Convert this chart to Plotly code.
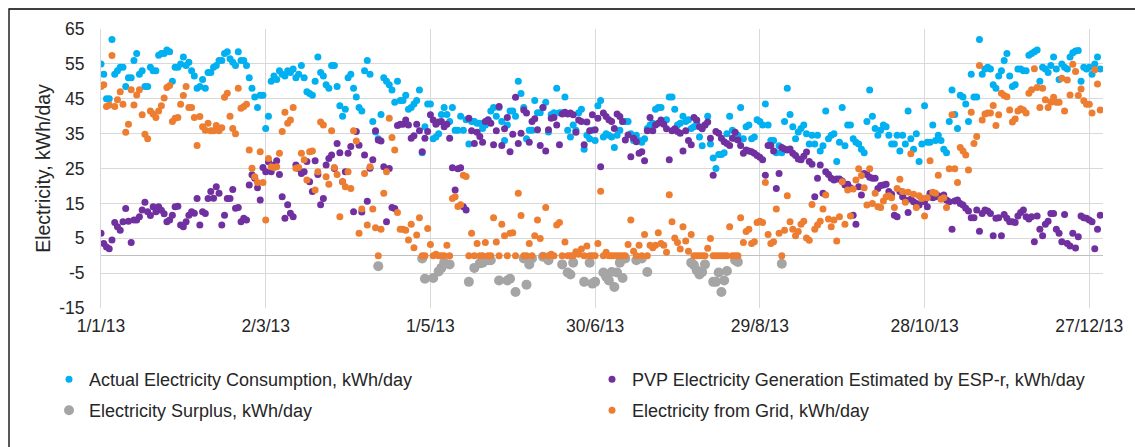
import pandas as pd
import plotly.graph_objects as go

# ---- daily values for 2013 (kWh/day) ----
dates = pd.date_range("2013-01-01", periods=365, freq="D")

consumption = [
    # Jan
    55, 52, 45, 45, 62, 52, 53, 54, 54, 48.5, 51, 51, 56, 58, 52, 53, 48.5, 48.5, 54, 53,
    53, 57.5, 58, 58, 59, 58.5, 50, 54, 54, 55, 57,
    # Feb
    54.5, 55.5, 53, 51.5, 48, 48.5, 50.5, 48, 52.5, 52.5, 54, 54.5, 56, 56, 58, 58.5, 56.5,
    55.5, 54.5, 58.5, 56, 56, 54.5, 51, 48, 45.5, 42.5, 46,
    # Mar
    46, 36.5, 40, 50, 51.5, 50.5, 53, 52, 51.5, 53, 52.5, 53.5, 51, 52, 54.5, 51, 47, 46.5,
    46, 50, 57, 52.5, 51.5, 49, 48, 54.5, 54.5, 48.5, 43, 40, 42,
    # Apr
    51, 52, 48, 45.5, 42.5, 41.5, 53, 56, 52, 38.5, 35.5, 33.5, 40.5, 51, 50, 49, 47.5, 44,
    50, 44.5, 44.5, 46, 42, 42.5, 43.5, 44.5, 47.5, 29.5, 37, 43.5,
    # May
    43.5, 33.5, 34, 35, 40.5, 42.5, 40.5, 38.5, 42.5, 36, 36, 40, 36, 39, 32, 38.5, 38.5, 38,
    38, 36.5, 37.5, 39, 41.5, 42.5, 40, 42.5, 38.5, 33, 37.5, 41.5, 41.5,
    # Jun
    40, 50, 46.5, 42.5, 33.5, 36, 36, 44.5, 41, 41, 42.5, 44, 35.5, 40.5, 41, 48, 41, 41,
    45.5, 36, 34, 37.5, 36, 41, 42, 30.5, 34.5, 33.5, 36, 33,
    # Jul
    43, 44.5, 34, 35, 34.5, 34, 31, 34.5, 36, 38.5, 38.5, 38.5, 35, 33, 34.5, 33, 32.5, 33.5,
    36.5, 37.5, 38, 42, 42.5, 42.5, 38.5, 39, 45.5, 45.5, 42, 37.5, 38,
    # Aug
    40, 38.5, 39, 36.5, 37, 38.5, 34, 31.5, 37.5, 40, 32, 28, 25, 29, 29, 29.5, 35, 40, 36,
    33.5, 34.5, 42.5, 33.5, 37, 37.5, 33.5, 34, 39, 38.5, 37.5, 43.5,
    # Sep
    37.5, 33, 33, 29.5, 31.5, 29.5, 38.5, 48, 40.5, 37, 33.5, 35.5, 36.5, 37.5, 35, 32, 34.5,
    32, 34.5, 30, 31.5, 41.5, 33.5, 34.5, 35, 27, 32.5, 42.5, 31.5, 37.5,
    # Oct
    37.5, 33.5, 32.5, 32, 30.5, 29.5, 38.5, 47.5, 40, 36.5, 34.5, 36, 37.5, 37, 34.5, 32, 32,
    34.5, 30, 34.5, 32, 41.5, 33.5, 30.5, 35, 27, 32, 43, 32.5, 32.5, 37.5,
    # Nov
    33, 34.5, 33, 30.5, 29.5, 38.5, 47.5, 40.5, 36.5, 46, 45.5, 43.5, 38.5, 52, 45.5, 45.5,
    62, 52, 53.5, 54, 53.5, 49, 48, 51.5, 53, 56, 58, 51.5, 48.5, 49,
    # Dec
    53.5, 53.5, 53, 53, 57.5, 58, 58.5, 59, 50, 54, 53.5, 52.5, 54.5, 57, 53.5, 50.5, 55, 54,
    53.5, 57, 58.2, 58.7, 58.8, 50, 54, 53.5, 54, 52, 55, 57, 53.5,
]

generation = [
    # Jan
    6.4, 3.5, 2.5, 2, 4.5, 9.5, 8.3, 7.3, 9.7, 13.5, 9.9, 3.8, 10.2, 10.2, 11.2, 13.1, 15.3,
    12.6, 11.5, 14, 12.6, 14, 13, 12, 9.7, 10.2, 11.6, 14, 14.2, 8.8, 8.3,
    # Feb
    9.7, 11.6, 12.6, 12.2, 16.4, 8.8, 12.6, 12.1, 16.4, 18.4, 16.5, 19.8, 17.9, 8.8, 11.6,
    16.4, 16.4, 19, 13.6, 13.8, 9.7, 10.7, 10.2, 20.3, 23.2, 22.2, 19.5, 16,
    # Mar
    25.3, 24.1, 26.9, 24.1, 26, 27.2, 23.3, 16.9, 10.7, 14.6, 12.2, 11.2, 26, 25, 23.6, 24.1,
    27, 21.2, 18.4, 27.2, 23.3, 14.6, 16.4, 26, 27.9, 28.9, 25, 32.2, 29.5, 21.2, 24.1,
    # Apr
    29.4, 31.3, 12.6, 35.6, 31.7, 12.5, 28.9, 15.6, 25.1, 27.5, 35.8, 33.2, 32.9, 25.5, 9.7,
    25, 13.8, 13.5, 37.3, 37.7, 37.7, 38.9, 37.5, 33.7, 34.4, 37.7, 35.8, 29.8, 33.7, 35.6,
    # May
    40.4, 38.9, 37.7, 38.3, 38.5, 37, 37.7, 33.7, 25.2, 18.8, 24.9, 25.2, 14, 13.1, 39.4,
    35.8, 32.2, 35.4, 34.2, 32.5, 38.5, 38.9, 38, 31.8, 35.8, 42.8, 31.6, 36.4, 39.6, 29.8, 34.8,
    # Jun
    45.4, 32.2, 35.1, 41.8, 40.9, 32.5, 38.5, 39.3, 36.1, 31.6, 42.5, 30, 36.1, 39.4, 39.6,
    37.5, 31.8, 40.6, 41.1, 40.6, 40.9, 40.4, 35.4, 38.9, 38.5, 31.8, 38.3, 35.8, 40.4, 36.1,
    # Jul
    39.4, 25.5, 40.9, 39.9, 39, 38.5, 36.5, 40.6, 39.9, 38.5, 33.2, 34.6, 28.4, 33.7, 32.7,
    29.4, 29.8, 27.2, 35.8, 39.6, 35.8, 37.5, 38, 38.9, 37.7, 36.4, 27.5, 35.8, 36.4, 35.6, 35.1,
    # Aug
    30, 35.8, 33, 31.8, 39.6, 38.9, 37, 36.4, 37.5, 38.3, 33.7, 23.1, 35.6, 35.1, 33.7, 32.7,
    32.2, 31.6, 33.7, 35.4, 33.2, 31.6, 29.4, 30.3, 30, 29.8, 29.4, 28.7, 28.2, 27.5, 23.1,
    # Sep
    31.6, 31.6, 30, 19.3, 23.6, 31, 30.6, 30.3, 30.6, 29.4, 28.7, 27.7, 27.5, 28.5, 29.7, 27,
    26.2, 16.9, 22.2, 26, 17.9, 24.1, 23.3, 22.2, 21.7, 22, 22, 21.4, 20.3, 20.5,
    # Oct
    19.5, 11.6, 9, 19.8, 17.4, 23.6, 23.3, 22.5, 22.2, 22.2, 19.3, 20.1, 20.3, 20.5, 18.4,
    17.6, 11.6, 11.2, 18.4, 16.9, 16, 12.4, 16.2, 15.5, 15, 14.5, 16.4, 15.5, 14, 17.9, 16.6,
    # Nov
    16.9, 17.2, 16.4, 17.4, 16, 15.5, 7.6, 15.7, 16, 15, 14.5, 13.6, 12.8, 10.9, 10.9, 13.1,
    7, 12.1, 13.1, 12.8, 12.1, 5.7, 10.7, 10.9, 5.7, 11.8, 10.7, 9.7, 9.7, 9.5,
    # Dec
    11.4, 12.4, 13.1, 11.2, 10.5, 11.2, 4, 11.4, 7.6, 5.7, 9, 9.9, 12.1, 12.1, 7.6, 6.4, 4,
    11.8, 3.5, 2.8, 6.4, 2.2, 5.4, 11.4, 10.9, 10.7, 10.2, 9.7, 2, 7.6, 11.6,
]

from_grid = [
    # Jan
    48.5, 49, 42.8, 43.2, 57.4, 42.8, 44.7, 47, 43.4, 35.4, 37.7, 47.6, 43.2, 46.1, 47.6,
    40.4, 34.8, 33.5, 41.5, 40.6, 39.6, 41.5, 43, 45.2, 48.2, 48.8, 38.5, 39.4, 39.6, 43.4, 45.9,
    # Feb
    48.5, 42.5, 42.5, 39.6, 31.6, 39.9, 37, 36, 38, 35.8, 35.8, 37.3, 35.8, 36.7, 45.4, 46.6,
    40, 36.5, 35, 48, 42.3, 42.8, 43.4, 30.3, 25.1, 22.6, 21, 29.8,
    # Mar
    21, 10.2, 27.9, 25.5, 25.3, 25.5, 29.4, 35.6, 41.1, 38, 38.9, 42.5, 25.1, 25.3, 29.4,
    27.5, 21.7, 29.8, 30, 18.8, 24.1, 38.3, 37.5, 22.6, 20.5, 35.8, 25.3, 23.3, 11.2, 21.2, 19.8,
    # Apr
    24.1, 19.3, 35.8, 32.9, 6.4, 13.4, 23.6, 8.8, 25.5, 13.4, 8, 0, 7.6, 17.9, 24.1, 39.4,
    33.9, 30.3, 12.4, 7.6, 7.6, 7.3, 4.5, 9, 2.3, 5.9, 10.9, 0, 0, 7.8,
    # May
    3.2, 0, 0.4, 0, 0, 0, 3, 0, 16.4, 16.9, 14.1, 14.6, 23.1, 22.7, 0, 6.4, 0, 3.5, 0, 0,
    3.8, 0, 0, 10.9, 3.9, 0, 9, 5.7, 0, 6.4, 6.6,
    # Jun
    0, 17.9, 11.5, 0, 0, 3.5, 0, 5.7, 10.2, 4.9, 0, 13.8, 0, 0.4, 0, 8.8, 9.5, 0, 3.9, 0, 0,
    0, 1.1, 0.4, 1.9, 0, 2.8, 0, 0, 0,
    # Jul
    3.5, 18.5, 0, 1, 0, 0, 0, 0, 0, 0, 0, 3.2, 10.2, 1.3, 0, 3, 0, 6.1, 0, 3, 2.3, 3, 6.6,
    3.5, 3, 1, 17.5, 9.7, 5.1, 3.8, 1.9,
    # Aug
    8.3, 4.2, 1.3, 6.1, 0, 0, 0, 0, 0, 2.1, 4.9, 0, 0, 0, 0, 0, 0, 8.3, 0, 0, 0, 10.9, 3.8,
    6.9, 7.6, 3.5, 4, 9.5, 9.9, 9.5, 21,
    # Sep
    6.1, 3.5, 4, 13.4, 6.4, 0, 7.3, 17.2, 9.7, 7.6, 5.7, 6.9, 9, 9.9, 5.1, 4.4, 14.7, 7.6,
    8.8, 9.9, 13.4, 17.4, 10.5, 8.3, 10.2, 4.2, 11.2, 21.2, 9, 18.8,
    # Oct
    11.4, 19.1, 21.7, 24.9, 23, 19.5, 14.5, 24.9, 15, 17.9, 14, 13.8, 15.7, 16.9, 17.2, 16.6,
    13.8, 19.3, 21.9, 18.4, 15.3, 18.2, 29.2, 17.6, 13.8, 17.2, 16.4, 11.4, 16.6, 27.2, 18.2,
    # Nov
    17.9, 23.1, 16.2, 16.6, 13.8, 24.9, 40.4, 24.9, 21, 31, 30, 28.9, 24.6, 41.1, 32.2, 34.2,
    54.5, 38.9, 40.6, 40.9, 40.9, 43.1, 37.3, 40.4, 46.6, 45.9, 45.6, 41.8, 38.3, 39.2,
    # Dec
    41.5, 42.1, 41.8, 40.9, 46.6, 47.6, 53.6, 48.2, 42.5, 48, 44.7, 42.5, 44, 45.4, 44, 44,
    50.9, 41.5, 50.4, 46.1, 54.9, 52.8, 45.9, 47.8, 44.4, 43.4, 43.4, 40.9, 53.3, 49.2, 41.8,
]

# surplus only exists on days when generation exceeds consumption (day-of-year index, value)
surplus_day = [101, 117, 118, 121, 123, 124, 125, 127, 134, 136, 138, 139, 141, 142, 145,
               148, 149, 151, 154, 155, 156, 157, 161, 163, 168, 170, 171, 172, 176, 178,
               179, 180, 183, 184, 185, 186, 187, 188, 189, 190, 191, 195, 197, 199, 215,
               216, 217, 218, 219, 220, 223, 224, 225, 226, 227, 228, 231, 232, 248]
surplus = [-3, -0.8, -6.6, -6.4, -4.5, -3.5, -2, -2.5, -7.5, -3.5, -2.2, -2, -1.3, -1.3, -7.1,
           -7.1, -6.6, -10.4, -0.8, -8.3, -2.5, -0.8, -0.3, -1.3, -2.5, -4.8, -5.4, -2, -7.5, -2,
           -8, -7.5, -4.8, -6, -7.1, -4.7, -9, -4.8, -2, -6.4, -0.8, -1.3, -0.8, -4.7, -2,
           -2.7, -4.2, -5.4, -4.7, -2.5, -7.5, -7.5, -4.8, -10.4, -7.1, -4.4, -1.3, -1.8, -2.3]

tick_dates = ["2013-01-01", "2013-03-02", "2013-05-01", "2013-06-30",
              "2013-08-29", "2013-10-28", "2013-12-27"]
tick_labels = ["1/1/13", "2/3/13", "1/5/13", "30/6/13", "29/8/13", "28/10/13", "27/12/13"]

y_ticks = [-15, -5, 5, 15, 25, 35, 45, 55, 65]
y_tick_labels = ["-15", "-5", "5", "15", "25", "35", "45", "55", "65"]

names = ["Actual Electricity Consumption, kWh/day",
         "PVP Electricity Generation Estimated by ESP-r, kWh/day",
         "Electricity Surplus, kWh/day",
         "Electricity from Grid, kWh/day"]
colors = ["#00B0F0", "#7030A0", "#A5A5A5", "#ED7D31"]

FONT = "Liberation Sans, Arial, sans-serif"
TXT = "#262626"

fig = go.Figure()
fig.add_trace(go.Scatter(x=dates, y=consumption, mode="markers", name=names[0],
                         marker=dict(color=colors[0], size=7), legend="legend"))
fig.add_trace(go.Scatter(x=dates, y=generation, mode="markers", name=names[1],
                         marker=dict(color=colors[1], size=7), legend="legend"))
fig.add_trace(go.Scatter(x=dates[surplus_day], y=surplus, mode="markers", name=names[2],
                         marker=dict(color=colors[2], size=10), legend="legend2"))
fig.add_trace(go.Scatter(x=dates, y=from_grid, mode="markers", name=names[3],
                         marker=dict(color=colors[3], size=7), legend="legend2"))

legend_common = dict(orientation="h", xanchor="left", yanchor="top",
                     entrywidth=498, entrywidthmode="pixels",
                     font=dict(family=FONT, size=18, color=TXT),
                     bgcolor="rgba(0,0,0,0)", itemclick=False)

fig.update_layout(
    width=1135, height=447,
    margin=dict(l=101, r=32, t=29, b=139),
    paper_bgcolor="white", plot_bgcolor="white",
    font=dict(family=FONT, color=TXT),
    legend=dict(x=-0.041, y=-0.19, **legend_common),
    legend2=dict(x=-0.041, y=-0.301, **legend_common),
    xaxis=dict(
        range=["2013-01-01", "2014-01-01"],
        tickmode="array", tickvals=tick_dates, ticktext=tick_labels,
        showgrid=True, gridcolor="#D9D9D9", gridwidth=1,
        zeroline=False, showline=False, ticks="", ticklabelstandoff=5,
        tickfont=dict(family=FONT, size=17.5, color=TXT),
    ),
    yaxis=dict(
        range=[-15, 65], tickmode="array", tickvals=y_ticks, ticktext=y_tick_labels,
        showgrid=True, gridcolor="#D9D9D9", gridwidth=1,
        zeroline=True, zerolinecolor="#BFBFBF", zerolinewidth=1,
        showline=True, linecolor="#D9D9D9", linewidth=1,
        ticks="", ticklabelstandoff=12,
        tickfont=dict(family=FONT, size=17.5, color=TXT),
        title=dict(text="Electricity, kWh/day", standoff=3,
                   font=dict(family=FONT, size=19.5, color=TXT)),
    ),
    shapes=[dict(type="rect", xref="paper", yref="paper",
                 x0=(9 - 101) / 1002, x1=(1160 - 101) / 1002,
                 y0=(308 - 470) / 279, y1=(308 - 9) / 279,
                 line=dict(color="black", width=1.3), fillcolor="rgba(0,0,0,0)",
                 layer="below")],
)

fig.write_html("out.html")
